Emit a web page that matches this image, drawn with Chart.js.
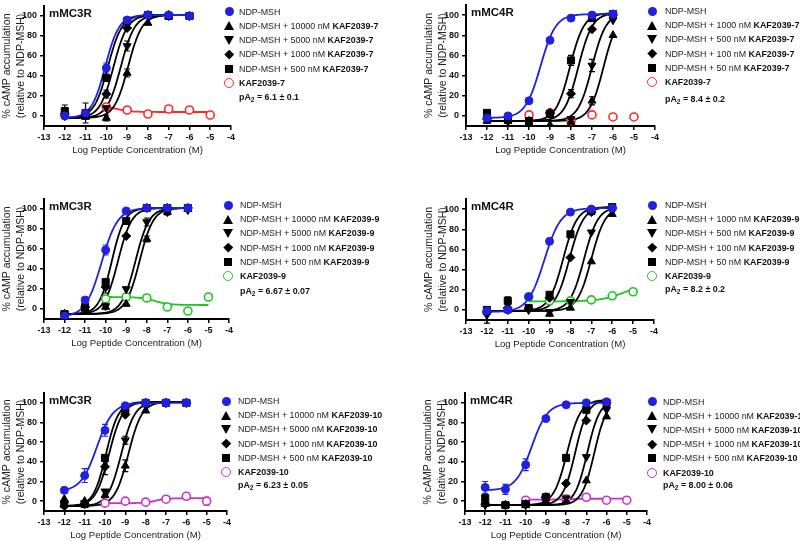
<!DOCTYPE html>
<html>
<head>
<meta charset="utf-8">
<script src="https://cdn.jsdelivr.net/npm/chart.js@4.4.1/dist/chart.umd.min.js"></script>
<style>
html, body { margin: 0; padding: 0; background: #fff; }
body { width: 800px; height: 541px; position: relative; overflow: hidden; font-family: "Liberation Sans", Arial, sans-serif; }
canvas { position: absolute; }
.ttl { position: absolute; font-weight: bold; font-size: 11.5px; line-height: 14px; color: #111; white-space: nowrap; }
.leg { position: absolute; font-size: 8.9px; line-height: 14px; height: 14px; color: #222; white-space: nowrap; }
.leg b { color: #111; }
.pa { position: absolute; font-size: 8.9px; line-height: 14px; font-weight: bold; color: #111; white-space: nowrap; }
.pa sub { font-size: 6.5px; vertical-align: -2px; line-height: 0; }
.mk { position: absolute; box-sizing: border-box; }
</style>
</head>
<body>
<script>
// shared axes
const doses = [-12, -11, -10, -9, -8, -7, -6];
const antDoses = [-10, -9, -8, -7, -6, -5];
const yTicks = [0, 20, 40, 60, 80, 100];
const blue = '#2020e0';

// fit parameters: [bottom, top, logEC50, hill]
// order: NDP-MSH, highest antagonist conc, ..., lowest antagonist conc

// --- mMC3R / KAF2039-7
const p1_conc = ['10000', '5000', '1000', '500'];
const p1_ndp = [0, 3, 48, 96, 101, 101, 100];
const p1_a = [2, -1, -2, 43, 93, 100, 100];
const p1_b = [0, 0, 8, 70, 100, 100, 100];
const p1_c = [2, 0, 22, 88, 101, 101, 100];
const p1_d = [5, 3, 38, 95, 101, 100, 100];
const p1_ant = [9, 6, 2, 7, 6, 1];
const p1_fits = [[-2, 101, -10.05, 1.3], [-2, 101, -8.95, 1.3], [-2, 101, -9.3, 1.3], [-2, 101, -9.65, 1.3], [-2, 101, -9.92, 1.3]];
const p1_fitAnt = [4, 11, -9.6, -1.2];
const p1_err = [[0, 0, 5, 0, 0, 0, 0], [0, 0, 3, 4, 0, 0, 0], [0, 0, 0, 5, 0, 0, 0], [0, 0, 4, 0, 0, 0, 0], [6, 10, 0, 0, 0, 0, 0], [3, 0, 3, 0, 0, 0]];

// --- mMC4R / KAF2039-7
const p2_conc = ['1000', '500', '100', '50'];
const p2_ndp = [-2, 0, 15, 75, 97, 100, 101];
const p2_a = [-5, -5, -8, -9, -6, 15, 80];
const p2_b = [-3, -4, -5, 2, -3, 50, 95];
const p2_c = [-3, -5, -5, 3, 22, 86, 100];
const p2_d = [3, -4, -5, 2, 55, 97, 101];
const p2_ant = [1, 3, -5, 1, -1, -1];
const p2_fits = [[-2, 101, -9.45, 1.2], [-5, 102, -6.45, 1.3], [-5, 102, -7.0, 1.3], [-5, 102, -7.65, 1.3], [-5, 102, -8.05, 1.3]];
const p2_fitAnt = null;
const p2_err = [[0, 0, 0, 0, 0, 0, 0], [0, 0, 0, 0, 0, 4, 0], [0, 0, 0, 0, 0, 6, 0], [0, 0, 0, 0, 4, 0, 0], [2, 0, 0, 0, 5, 0, 0], [3, 2, 3, 0, 0, 0]];

// --- mMC3R / KAF2039-9
const p3_conc = ['10000', '5000', '1000', '500'];
const p3_ndp = [-7, 9, 59, 98, 101, 101, 101];
const p3_a = [-5, 0, 2, 5, 70, 97, 100];
const p3_b = [-5, 0, 3, 20, 87, 97, 99];
const p3_c = [-5, 2, 22, 73, 101, 101, 101];
const p3_d = [-5, 2, 27, 88, 101, 101, 101];
const p3_ant = [10, 12, 11, 2, -2, 12];
const p3_fits = [[-8, 101, -10.2, 1.1], [-5, 101, -8.35, 1.3], [-5, 101, -8.55, 1.3], [-5, 101, -9.4, 1.3], [-5, 101, -9.7, 1.4]];
const p3_fitAnt = [4, 12, -7.6, -1.2];
const p3_err = [[0, 0, 5, 0, 0, 0, 0], [0, 0, 0, 0, 3, 3, 0], [0, 0, 0, 0, 4, 0, 0], [0, 0, 6, 0, 0, 0, 0], [0, 0, 0, 0, 0, 0, 0], [3, 0, 3, 0, 0, 0]];

// --- mMC4R / KAF2039-9
const p4_conc = ['1000', '500', '100', '50'];
const p4_ndp = [-1, 0, 13, 68, 97, 100, 101];
const p4_a = [-2, 0, 1, -4, 2, 48, 95];
const p4_b = [-5, 0, 0, -2, 8, 77, 98];
const p4_c = [-2, 2, 1, 12, 52, 97, 101];
const p4_d = [0, 9, 2, 15, 75, 98, 102];
const p4_ant = [13, 9, 9, 10, 14, 18];
const p4_fits = [[-2, 101, -9.25, 1.1], [-1, 102, -7.0, 1.3], [-1, 102, -7.35, 1.3], [-1, 102, -8.05, 1.3], [-1, 102, -8.35, 1.3]];
const p4_fitAnt = [8.5, 25, -5.5, 0.8];
const p4_err = [[0, 0, 0, 0, 0, 0, 0], [0, 0, 0, 0, 0, 0, 0], [8, 0, 0, 0, 0, 0, 0], [0, 0, 0, 0, 0, 0, 0], [0, 4, 0, 0, 0, 0, 0], [3, 0, 0, 0, 3, 0]];

// --- mMC3R / KAF2039-10
const p5_conc = ['10000', '5000', '1000', '500'];
const p5_ndp = [11, 26, 72, 97, 100, 100, 100];
const p5_a = [2, 0, 6, 36, 92, 100, 100];
const p5_b = [-3, -2, 10, 62, 97, 100, 100];
const p5_c = [-5, -3, 35, 88, 100, 100, 100];
const p5_d = [-3, -3, 44, 92, 100, 100, 100];
const p5_ant = [-2, 0, -1, 2, 5, 0];
const p5_fits = [[10, 100, -10.4, 1.1], [-5, 101, -8.85, 1.3], [-5, 101, -9.2, 1.3], [-5, 101, -9.8, 1.3], [-5, 101, -9.95, 1.4]];
const p5_fitAnt = [-2, 3, -7.5, 1.5];
const p5_err = [[3, 7, 6, 0, 0, 0, 0], [0, 0, 0, 6, 0, 0, 0], [0, 0, 0, 4, 0, 0, 0], [0, 0, 8, 0, 0, 0, 0], [3, 0, 0, 0, 0, 0, 0], [0, 0, 0, 0, 0, 4]];

// --- mMC4R / KAF2039-10
const p6_conc = ['10000', '5000', '1000', '500'];
const p6_ndp = [14, 12, 37, 84, 98, 100, 101];
const p6_a = [-3, -4, -4, 0, 0, 21, 86];
const p6_b = [-4, -4, -4, 2, 3, 45, 93];
const p6_c = [-3, -4, -3, 4, 18, 82, 100];
const p6_d = [3, -4, -3, 4, 44, 93, 100];
const p6_ant = [1, 4, 2, 4, 1, 1];
const p6_fits = [[11, 100, -9.7, 1.1], [-4, 103, -6.6, 1.4], [-4, 103, -6.95, 1.4], [-4, 103, -7.55, 1.4], [-4, 103, -7.95, 1.3]];
const p6_fitAnt = [1.5, 2.5, -8, 1];
const p6_err = [[6, 5, 6, 0, 0, 0, 0], [0, 0, 0, 0, 0, 0, 0], [0, 0, 0, 0, 3, 0, 0], [0, 0, 0, 0, 0, 0, 0], [3, 0, 0, 0, 0, 0, 0], [0, 0, 0, 0, 0, 0]];

// page layout: plot area [left, top, right, bottom], legend [markerX, textX, firstRowY, pA2Y]
const panels = [
  { area: [44, 2, 231, 126], title: 'mMC3R', cpd: 'KAF2039-7', pa2: '6.1 ± 0.1', antColor: '#ff2a2a',
    conc: p1_conc, vals: [p1_ndp, p1_a, p1_b, p1_c, p1_d], ant: p1_ant, fits: p1_fits, fitAnt: p1_fitAnt, err: p1_err, leg: [229, 239, 11.7, 97.3] },
  { area: [466, 1, 655, 126], title: 'mMC4R', cpd: 'KAF2039-7', pa2: '8.4 ± 0.2', antColor: '#ff2a2a',
    conc: p2_conc, vals: [p2_ndp, p2_a, p2_b, p2_c, p2_d], ant: p2_ant, fits: p2_fits, fitAnt: p2_fitAnt, err: p2_err, leg: [652, 665, 11, 99.3] },
  { area: [44, 195, 229, 319], title: 'mMC3R', cpd: 'KAF2039-9', pa2: '6.67 ± 0.07', antColor: '#22c422',
    conc: p3_conc, vals: [p3_ndp, p3_a, p3_b, p3_c, p3_d], ant: p3_ant, fits: p3_fits, fitAnt: p3_fitAnt, err: p3_err, leg: [228, 240, 205, 291] },
  { area: [466, 195, 654, 320], title: 'mMC4R', cpd: 'KAF2039-9', pa2: '8.2 ± 0.2', antColor: '#22c422',
    conc: p4_conc, vals: [p4_ndp, p4_a, p4_b, p4_c, p4_d], ant: p4_ant, fits: p4_fits, fitAnt: p4_fitAnt, err: p4_err, leg: [652, 665, 205, 289.3] },
  { area: [44, 389, 227, 511], title: 'mMC3R', cpd: 'KAF2039-10', pa2: '6.23 ± 0.05', antColor: '#cc30cc',
    conc: p5_conc, vals: [p5_ndp, p5_a, p5_b, p5_c, p5_d], ant: p5_ant, fits: p5_fits, fitAnt: p5_fitAnt, err: p5_err, leg: [226, 238, 401, 485] },
  { area: [465, 389, 647, 511], title: 'mMC4R', cpd: 'KAF2039-10', pa2: '8.00 ± 0.06', antColor: '#cc30cc',
    conc: p6_conc, vals: [p6_ndp, p6_a, p6_b, p6_c, p6_d], ant: p6_ant, fits: p6_fits, fitAnt: p6_fitAnt, err: p6_err, leg: [652, 663, 401.5, 485] }
];

// marker look for NDP-MSH and the four antagonist concentrations
const marks = [
  { style: 'circle', rot: 0, r: 4 },
  { style: 'triangle', rot: 0, r: 4.6 },
  { style: 'triangle', rot: 180, r: 4.6 },
  { style: 'rectRot', rot: 0, r: 4.5 },
  { style: 'rect', rot: 0, r: 5 }
];

Chart.defaults.font.family = '"Liberation Sans", Arial, sans-serif';

function sigmoid(p, x) {
  return p[0] + (p[1] - p[0]) / (1 + Math.pow(10, (p[2] - x) * p[3]));
}
function fitLine(p, x0, x1) {
  const pts = [];
  for (let x = x0; x <= x1 + 1e-9; x += 0.05) pts.push({ x: x, y: sigmoid(p, x) });
  return pts;
}

const errorBars = {
  id: 'errorBars',
  beforeDatasetsDraw(chart) {
    const ctx = chart.ctx, xs = chart.scales.x, ys = chart.scales.y;
    ctx.save();
    chart.data.datasets.forEach(ds => {
      if (!ds.err) return;
      ctx.strokeStyle = ds.pointBorderColor;
      ctx.lineWidth = 1.2;
      ds.data.forEach((pt, i) => {
        const e = ds.err[i];
        if (!e) return;
        const px = xs.getPixelForValue(pt.x);
        const top = ys.getPixelForValue(pt.y + e), bot = ys.getPixelForValue(pt.y - e);
        ctx.beginPath();
        ctx.moveTo(px, top); ctx.lineTo(px, bot);
        ctx.moveTo(px - 3, top); ctx.lineTo(px + 3, top);
        ctx.moveTo(px - 3, bot); ctx.lineTo(px + 3, bot);
        ctx.stroke();
      });
    });
    ctx.restore();
  }
};

function addDiv(cls, left, top, html) {
  const d = document.createElement('div');
  d.className = cls;
  d.style.left = left + 'px';
  d.style.top = top + 'px';
  if (html !== undefined) d.innerHTML = html;
  document.body.appendChild(d);
  return d;
}

function addMarker(kind, color, cx, cy) {
  const m = addDiv('mk', 0, 0);
  let w = 9, h = 9;
  if (kind === 'circle') {
    m.style.cssText += `width:9px;height:9px;border-radius:50%;background:${color};`;
  } else if (kind === 'open') {
    m.style.cssText += `width:10px;height:10px;border-radius:50%;border:1.7px solid ${color};background:#fff;`;
    w = 10; h = 10;
  } else if (kind === 'square') {
    m.style.cssText += 'width:8px;height:8px;background:#000;';
    w = 8; h = 8;
  } else if (kind === 'diamond') {
    m.style.cssText += 'width:6.5px;height:6.5px;background:#000;transform:rotate(45deg);';
    w = 6.5; h = 6.5;
  } else if (kind === 'up') {
    m.style.cssText += 'width:0;height:0;border-left:5px solid transparent;border-right:5px solid transparent;border-bottom:9px solid #000;';
    w = 10; h = 9;
  } else {
    m.style.cssText += 'width:0;height:0;border-left:5px solid transparent;border-right:5px solid transparent;border-top:9px solid #000;';
    w = 10; h = 9;
  }
  m.style.left = (cx - w / 2) + 'px';
  m.style.top = (cy - h / 2) + 'px';
}

function buildPanel(p) {
  const [l, t, r, b] = p.area;
  const cl = l - 44, ct = t - 2;
  const w = r - cl + 14, h = b - ct + 30;
  const canvas = document.createElement('canvas');
  canvas.width = w; canvas.height = h;
  canvas.style.left = cl + 'px'; canvas.style.top = ct + 'px';
  canvas.style.width = w + 'px'; canvas.style.height = h + 'px';
  document.body.appendChild(canvas);

  const datasets = [];
  // points: NDP-MSH first so it is drawn on top
  p.vals.forEach((vals, k) => {
    const col = k === 0 ? blue : '#000';
    datasets.push({
      data: doses.map((x, i) => ({ x: x, y: vals[i] })),
      err: p.err[k],
      pointStyle: marks[k].style,
      pointRotation: marks[k].rot,
      pointRadius: marks[k].r,
      pointBackgroundColor: col,
      pointBorderColor: col,
      pointBorderWidth: 1,
      showLine: false,
      order: 0
    });
  });
  datasets.push({
    data: antDoses.map((x, i) => ({ x: x, y: p.ant[i] })),
    err: p.err[5],
    pointStyle: 'circle',
    pointRadius: 4,
    pointBackgroundColor: '#fff',
    pointBorderColor: p.antColor,
    pointBorderWidth: 1.6,
    showLine: false,
    order: 1
  });
  // fitted curves
  p.fits.forEach((f, k) => {
    datasets.push({
      data: fitLine(f, -12, -6),
      showLine: true,
      borderColor: k === 0 ? blue : '#000',
      borderWidth: 1.8,
      pointRadius: 0,
      order: 2
    });
  });
  if (p.fitAnt) {
    datasets.push({
      data: fitLine(p.fitAnt, -10, -5),
      showLine: true,
      borderColor: p.antColor,
      borderWidth: 1.8,
      pointRadius: 0,
      order: 2
    });
  }

  const axisGrid = { drawOnChartArea: false, drawTicks: true, tickLength: 4, color: '#000', lineWidth: 1.5 };
  const axisBorder = { display: true, color: '#000', width: 2 };

  new Chart(canvas, {
    type: 'scatter',
    data: { datasets: datasets },
    options: {
      responsive: false,
      animation: false,
      events: [],
      layout: { padding: { top: 2, right: 14, left: 0, bottom: 0 } },
      plugins: { legend: { display: false }, tooltip: { enabled: false } },
      scales: {
        x: {
          type: 'linear', min: -13, max: -4,
          ticks: { stepSize: 1, autoSkip: false, maxRotation: 0, padding: 2, color: '#111', font: { size: 9, weight: 'bold' } },
          grid: axisGrid,
          border: axisBorder,
          title: { display: true, text: 'Log Peptide Concentration (M)', color: '#222', font: { size: 9.6 }, padding: 0 },
          afterFit(s) { s.height = 30; s.paddingLeft = 0; s.paddingRight = 0; }
        },
        y: {
          type: 'linear', min: -10, max: 110,
          afterBuildTicks(s) { s.ticks = yTicks.map(v => ({ value: v })); },
          ticks: { padding: 3, color: '#111', font: { size: 9, weight: 'bold', lineHeight: 0.4 } },
          grid: axisGrid,
          border: axisBorder,
          title: { display: true, text: ['% cAMP accumulation', '(relative to NDP-MSH)'], color: '#222', font: { size: 10.5, lineHeight: 1.35 }, padding: 0 },
          afterFit(s) { s.width = 44; s.paddingTop = 0; s.paddingBottom = 0; }
        }
      }
    },
    plugins: [errorBars]
  });

  addDiv('ttl', l + 5, t + 4, p.title);

  const [mx, tx, y0, yPa] = p.leg;
  const rows = [
    ['circle', blue, 'NDP-MSH'],
    ['up', '#000', `NDP-MSH + ${p.conc[0]} nM <b>${p.cpd}</b>`],
    ['down', '#000', `NDP-MSH + ${p.conc[1]} nM <b>${p.cpd}</b>`],
    ['diamond', '#000', `NDP-MSH + ${p.conc[2]} nM <b>${p.cpd}</b>`],
    ['square', '#000', `NDP-MSH + ${p.conc[3]} nM <b>${p.cpd}</b>`],
    ['open', p.antColor, `<b>${p.cpd}</b>`]
  ];
  rows.forEach((row, i) => {
    const cy = y0 + i * 14.2;
    addMarker(row[0], row[1], mx, cy);
    addDiv('leg', tx, cy - 7, row[2]);
  });
  addDiv('pa', tx, yPa - 7, `pA<sub>2</sub> = ${p.pa2}`);
}

panels.forEach(buildPanel);
</script>
</body>
</html>
